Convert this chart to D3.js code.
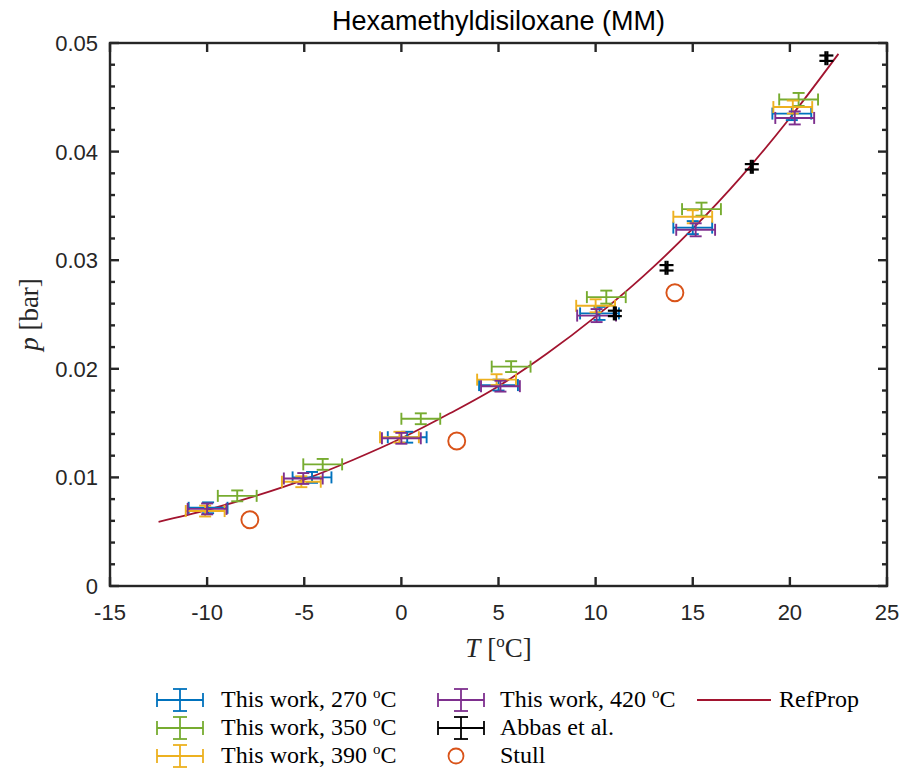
<!DOCTYPE html>
<html>
<head>
<meta charset="utf-8">
<script src="https://cdn.jsdelivr.net/npm/d3@7"></script>
<style>
  body { margin: 0; background: #fff; }
  svg text { font-family: "Liberation Sans", Arial, sans-serif; }
  .serif { font-family: "Liberation Serif", "DejaVu Serif", serif; }
</style>
</head>
<body>
<div id="container"></div>
<script>
// temperatures [C] and pressures [bar]
var t270 = [-9.95, -4.6, 0.3, 5.0, 10.2, 15.0, 20.1];
var p270 = [0.0072, 0.0100, 0.0137, 0.0185, 0.0251, 0.0330, 0.0435];
var t350 = [-8.45, -4.05, 1.0, 5.65, 10.55, 15.45, 20.45];
var p350 = [0.0083, 0.0112, 0.0154, 0.0202, 0.0266, 0.0347, 0.0448];
var t390 = [-10.1, -5.15, -0.1, 4.9, 10.0, 15.0, 20.15];
var p390 = [0.0069, 0.0096, 0.0137, 0.0190, 0.0258, 0.0340, 0.0441];
var t420 = [-10.0, -5.05, 0.0, 5.1, 10.05, 15.15, 20.25];
var p420 = [0.0071, 0.0099, 0.0136, 0.0184, 0.0249, 0.0328, 0.0431];
// error bars of this work
var dtWork = [1, 1, 1, 1, 1, 1, 1];
var dpWork = [0.0005, 0.0005, 0.0005, 0.0005, 0.0006, 0.0006, 0.0006];

var tAbbas = [10.99, 13.65, 18.04, 21.88];
var pAbbas = [0.0251, 0.0293, 0.0386, 0.0486];
var dtAbbas = [0.05, 0.05, 0.05, 0.05];
var dpAbbas = [0.00025, 0.00025, 0.00025, 0.00025];

var tStull = [-7.8, 2.85, 14.08];
var pStull = [0.0061, 0.01335, 0.0270];

// RefProp curve
var tRef = [-12.5, -10, -7.5, -5, -2.5, 0, 2.5, 5, 7.5, 10, 12.5, 15, 17.5, 20, 22.5];
var pRef = [0.0059, 0.0070, 0.0083, 0.0098, 0.0116, 0.0136, 0.0159, 0.0184, 0.0214, 0.0248, 0.0286, 0.0329, 0.0377, 0.0431, 0.0490];

var xTicks = [-15, -10, -5, 0, 5, 10, 15, 20, 25];
var yTicks = [0, 0.01, 0.02, 0.03, 0.04, 0.05];

var W = 905, H = 772;
var margin = {top: 43, right: 18, bottom: 186, left: 110};
var axisColor = "#262626";

var x = d3.scaleLinear().domain([-15, 25]).range([margin.left, W - margin.right]);
var y = d3.scaleLinear().domain([0, 0.05]).range([H - margin.bottom, margin.top]);

var svg = d3.select("#container").append("svg")
    .attr("width", W).attr("height", H);

var plot = svg.append("g");

// RefProp line
var line = d3.line()
    .x(function(d){ return x(d[0]); })
    .y(function(d){ return y(d[1]); })
    .curve(d3.curveMonotoneX);
plot.append("path")
    .datum(tRef.map(function(t, i){ return [t, pRef[i]]; }))
    .attr("d", line)
    .attr("fill", "none")
    .attr("stroke", "#A2142F")
    .attr("stroke-width", 1.8);

// draws one errorbar cross at pixel position
function cross(g, cx, cy, x0, x1, y0, y1, color, cap, lw) {
    var segs = [
        [x0, cy, x1, cy], [x0, cy - cap, x0, cy + cap], [x1, cy - cap, x1, cy + cap],
        [cx, y0, cx, y1], [cx - cap, y0, cx + cap, y0], [cx - cap, y1, cx + cap, y1]
    ];
    segs.forEach(function(s){
        g.append("line")
            .attr("x1", s[0]).attr("y1", s[1]).attr("x2", s[2]).attr("y2", s[3])
            .attr("stroke", color).attr("stroke-width", lw);
    });
}

function errSeries(ts, ps, dts, dps, color, cap, lw) {
    var g = plot.append("g");
    ts.forEach(function(t, i){
        cross(g, x(t), y(ps[i]), x(t - dts[i]), x(t + dts[i]),
              y(ps[i] - dps[i]), y(ps[i] + dps[i]), color, cap, lw);
    });
}

var colors = {c270: "#0072BD", c350: "#77AC30", c390: "#EDB120", c420: "#7E2F8E"};

errSeries(t270, p270, dtWork, dpWork, colors.c270, 6, 1.9);
errSeries(t350, p350, dtWork, dpWork, colors.c350, 6, 1.9);
errSeries(t390, p390, dtWork, dpWork, colors.c390, 6, 1.9);
errSeries(t420, p420, dtWork, dpWork, colors.c420, 6, 1.9);
errSeries(tAbbas, pAbbas, dtAbbas, dpAbbas, "#000000", 7, 2.2);

plot.selectAll("circle.stull")
    .data(tStull)
    .enter().append("circle")
    .attr("class", "stull")
    .attr("cx", function(d){ return x(d); })
    .attr("cy", function(d, i){ return y(pStull[i]); })
    .attr("r", 8.5)
    .attr("fill", "none")
    .attr("stroke", "#D95319")
    .attr("stroke-width", 1.9);

// axes with inward ticks, boxed
var x0 = x.range()[0], x1 = x.range()[1], y0 = y.range()[0], y1 = y.range()[1];
var ax = svg.append("g").attr("stroke", axisColor).attr("stroke-width", 2.4);
ax.append("rect").attr("x", x0).attr("y", y1).attr("width", x1 - x0).attr("height", y0 - y1)
    .attr("fill", "none");

xTicks.forEach(function(t){
    ax.append("line").attr("x1", x(t)).attr("x2", x(t)).attr("y1", y0).attr("y2", y0 - 9);
    ax.append("line").attr("x1", x(t)).attr("x2", x(t)).attr("y1", y1).attr("y2", y1 + 9);
});
d3.range(0, 0.0501, 0.002).forEach(function(v){
    var major = Math.abs(Math.round(v * 100) - v * 100) < 1e-6;
    var len = major ? 9 : 5;
    ax.append("line").attr("x1", x0).attr("x2", x0 + len).attr("y1", y(v)).attr("y2", y(v));
    ax.append("line").attr("x1", x1).attr("x2", x1 - len).attr("y1", y(v)).attr("y2", y(v));
});

svg.selectAll("text.xt")
    .data(xTicks).enter().append("text")
    .attr("x", function(d){ return x(d); })
    .attr("y", y0 + 34)
    .attr("text-anchor", "middle")
    .attr("font-size", "22px")
    .attr("fill", axisColor)
    .text(function(d){ return d; });

svg.selectAll("text.yt")
    .data(yTicks).enter().append("text")
    .attr("x", x0 - 12)
    .attr("y", function(d){ return y(d) + 8; })
    .attr("text-anchor", "end")
    .attr("font-size", "22px")
    .attr("fill", axisColor)
    .text(function(d){ return d === 0 ? "0" : d3.format(".2f")(d); });

// title
svg.append("text")
    .attr("x", (x0 + x1) / 2).attr("y", 30)
    .attr("text-anchor", "middle")
    .attr("font-size", "27px")
    .attr("fill", "#000")
    .text("Hexamethyldisiloxane (MM)");

// axis labels
var xl = svg.append("text").attr("class", "serif")
    .attr("x", (x0 + x1) / 2).attr("y", 657)
    .attr("text-anchor", "middle").attr("font-size", "27px").attr("fill", axisColor);
xl.append("tspan").attr("font-style", "italic").text("T");
xl.append("tspan").text(" [");
xl.append("tspan").attr("font-size", "17px").attr("dy", -10).text("o");
xl.append("tspan").attr("dy", 10).text("C]");

var yl = svg.append("text").attr("class", "serif")
    .attr("transform", "translate(38," + ((y0 + y1) / 2) + ") rotate(-90)")
    .attr("text-anchor", "middle").attr("font-size", "27px").attr("fill", axisColor);
yl.append("tspan").attr("font-style", "italic").text("p");
yl.append("tspan").text(" [bar]");

// legend
var legendItems = [
    {label: "This work, 270 ", color: colors.c270, type: "err", col: 0, row: 0},
    {label: "This work, 350 ", color: colors.c350, type: "err", col: 0, row: 1},
    {label: "This work, 390 ", color: colors.c390, type: "err", col: 0, row: 2},
    {label: "This work, 420 ", color: colors.c420, type: "err", col: 1, row: 0},
    {label: "Abbas et al.", color: "#000", type: "err", col: 1, row: 1},
    {label: "Stull", color: "#D95319", type: "circle", col: 1, row: 2},
    {label: "RefProp", color: "#A2142F", type: "line", col: 2, row: 0}
];
var colIcon = [180, 461, 734];
var colText = [221, 500, 779];
var rowY = [700, 728, 756];
var lg = svg.append("g");
legendItems.forEach(function(d){
    var cx = colIcon[d.col], cy = rowY[d.row];
    if (d.type === "err") {
        cross(lg, cx, cy, cx - 23, cx + 23, cy - 11, cy + 11, d.color, 7, 1.8);
    } else if (d.type === "circle") {
        lg.append("circle").attr("cx", cx - 5).attr("cy", cy).attr("r", 7.5)
            .attr("fill", "none").attr("stroke", d.color).attr("stroke-width", 1.8);
    } else {
        lg.append("line").attr("x1", cx - 37).attr("x2", cx + 37).attr("y1", cy).attr("y2", cy)
            .attr("stroke", d.color).attr("stroke-width", 1.8);
    }
    var t = lg.append("text").attr("class", "serif")
        .attr("x", colText[d.col]).attr("y", cy + 7)
        .attr("font-size", "24px").attr("fill", "#000");
    t.append("tspan").text(d.label);
    if (d.label.indexOf("This work") === 0) {
        t.append("tspan").attr("font-size", "15px").attr("dy", -9).text("o");
        t.append("tspan").attr("dy", 9).text("C");
    }
});
</script>
</body>
</html>
